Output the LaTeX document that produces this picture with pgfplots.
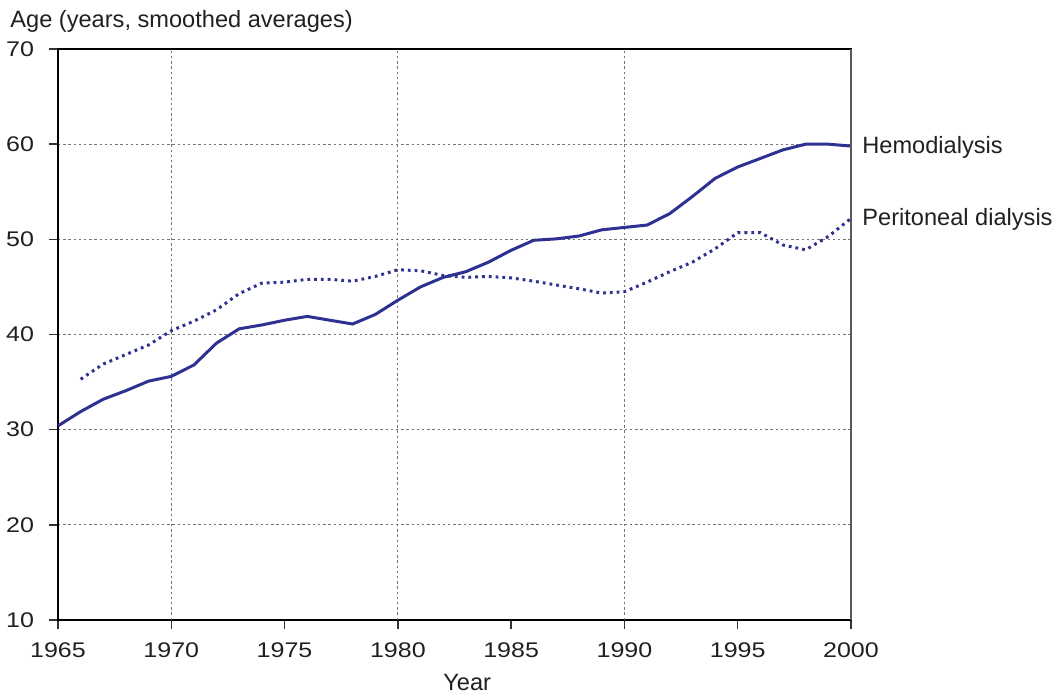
\documentclass[border=0pt]{standalone}
\usepackage{fontspec}
\setmainfont{Liberation Sans}
\newfontfamily\tickfont[FakeStretch=1.18]{Liberation Sans}
\usepackage{pgfplots}
\pgfplotsset{compat=1.18}

\definecolor{navy}{RGB}{46,49,146}
\definecolor{txt}{RGB}{35,31,32}

\begin{document}
\begin{tikzpicture}[font=\fontsize{11.8}{14}\selectfont, text=txt]
\useasboundingbox (-29pt,-37.5pt) rectangle (501.5pt,310pt);
\begin{axis}[
    scale only axis,
    width=396.5pt, height=285.5pt,
    xmin=1965, xmax=2000,
    ymin=10, ymax=70,
    xtick={1965,1970,...,2000},
    ytick={10,20,...,70},
    xtick pos=bottom, ytick pos=left,
    /pgf/number format/assume math mode=true,
    ticklabel style={font=\tickfont\fontsize{10.6}{12}\selectfont, text=txt},
    xticklabel style={/pgf/number format/1000 sep={}, yshift=-3.5pt},
    yticklabel style={xshift=-4pt},
    tick align=outside,
    major tick length=4.5pt,
    tick style={black!80, line width=0.7pt},
    axis line style={black, line width=0.8pt},
    ymajorgrids,
    extra x ticks={1970,1980,1990},
    extra x tick labels={},
    extra x tick style={xmajorgrids=true, major tick length=0pt},
    grid style={black!55, line width=0.6pt, dash pattern=on 1.2pt off 1.4pt},
    xlabel={Year},
    xlabel style={at={(axis description cs:0.516,-0.124)}, anchor=base, inner sep=0pt},
    ylabel={Age (years, smoothed averages)},
    ylabel style={rotate=-90, at={(axis description cs:-0.0605,1.0368)}, anchor=base west, inner sep=0pt},
    clip=false,
]
% Hemodialysis
\addplot[navy, line width=1.5pt] coordinates {
(1965,30.4) (1966,31.9) (1967,33.2) (1968,34.1) (1969,35.1) (1970,35.6)
(1971,36.8) (1972,39.1) (1973,40.6) (1974,41.0) (1975,41.5) (1976,41.9)
(1977,41.5) (1978,41.1) (1979,42.1) (1980,43.6) (1981,45.0) (1982,46.0)
(1983,46.6) (1984,47.6) (1985,48.85) (1986,49.9) (1987,50.05) (1988,50.35)
(1989,51.0) (1990,51.25) (1991,51.5) (1992,52.7) (1993,54.5) (1994,56.4)
(1995,57.6) (1996,58.5) (1997,59.4) (1998,60.0) (1999,60.0) (2000,59.8)
};
% Peritoneal dialysis
\addplot[navy, line width=1.5pt, dash pattern=on 1.4pt off 2pt] coordinates {
(1966,35.3) (1967,36.9) (1968,37.9) (1969,38.9) (1970,40.4) (1971,41.4)
(1972,42.6) (1973,44.3) (1974,45.4) (1975,45.5) (1976,45.8) (1977,45.8)
(1978,45.6) (1979,46.1) (1980,46.8) (1981,46.7) (1982,46.2) (1983,46.0)
(1984,46.1) (1985,45.95) (1986,45.6) (1987,45.2) (1988,44.8) (1989,44.35)
(1990,44.5) (1991,45.5) (1992,46.6) (1993,47.6) (1994,49.0) (1995,50.7)
(1996,50.7) (1997,49.4) (1998,48.9) (1999,50.3) (2000,52.2)
};
\draw[black!65, line width=0.8pt] (rel axis cs:1,0) -- (rel axis cs:1,1);
\node[anchor=west, inner sep=0pt, xshift=5.5pt] at (axis cs:2000,59.7) {Hemodialysis};
\node[anchor=west, inner sep=0pt, xshift=5.5pt] at (axis cs:2000,52.1) {Peritoneal dialysis};
\end{axis}
\end{tikzpicture}
\end{document}
